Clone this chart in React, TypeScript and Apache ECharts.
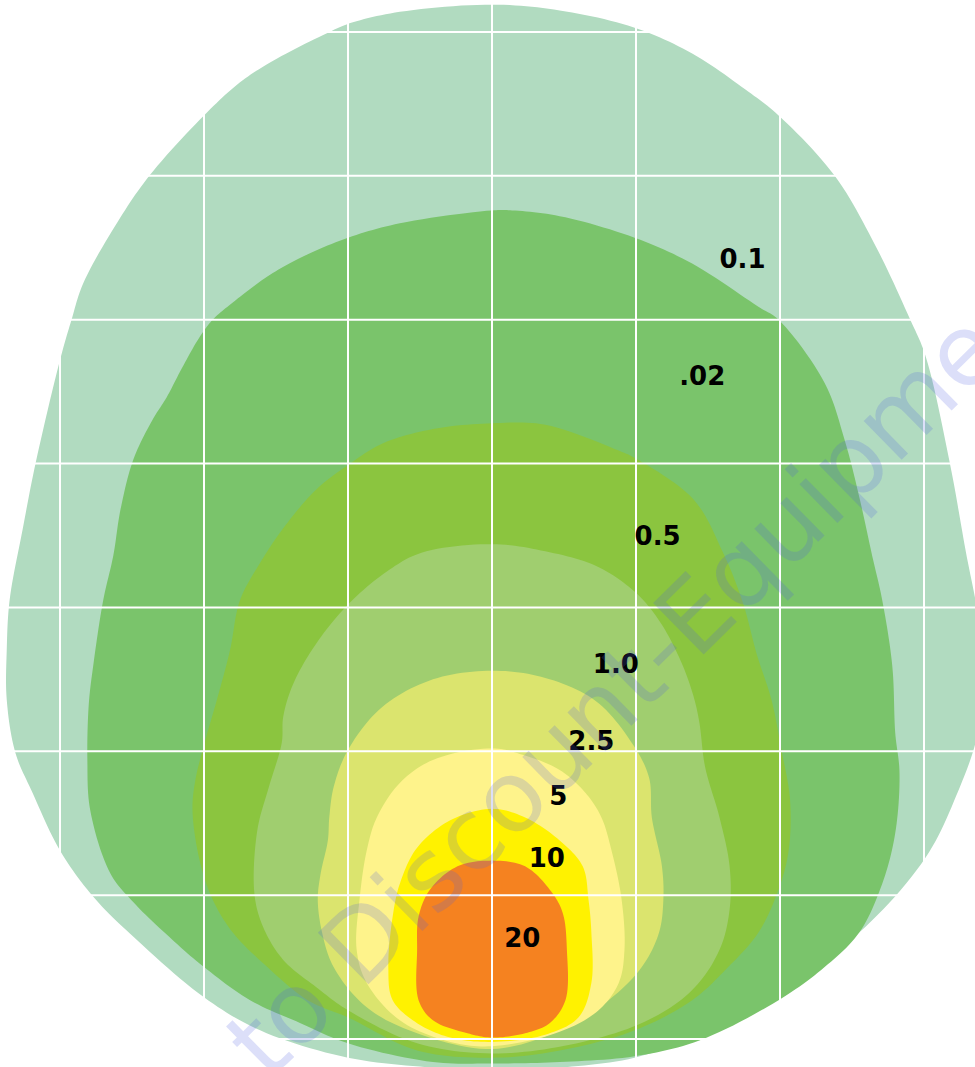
import React, { useEffect, useRef } from "react";
import * as echarts from "echarts";

// Grid ticks (grid spacing = 10 units)
const xTicks = [-30, -20, -10, 0, 10, 20, 30];
const yTicks = [0, 10, 20, 30, 40, 50, 60, 70];

// Iso-level labels (outermost to innermost)
const levelLabels = ["0.1", ".02", "0.5", "1.0", "2.5", "5", "10", "20"];
const levelColors = ["#b1dbc0", "#7ac46b", "#8bc53f", "#a0ce6f", "#dbe46e", "#fef38b", "#fff200", "#f58220"];

// Contour outlines in chart units [x, y]
const contour01 = [[0,71.9],[4.7,71.5],[9.9,70.3],[13.9,68.5],[17.6,66.0],[19.9,64.2],[23.8,60.0],[26.6,55.2],[29.0,50.1],[30.1,47.5],[31.8,40.0],[32.9,33.9],[33.8,29.1],[34.1,25.0],[33.7,21.1],[32.4,17.3],[30.1,12.6],[25.5,7.4],[19.9,3.4],[15.1,0.6],[9.9,-1.3],[4.7,-2.0],[0,-2.3],[-4.1,-2.0],[-10.0,-1.3],[-16.1,0.6],[-20.0,2.9],[-24.9,7.1],[-27.7,9.9],[-30.0,13.1],[-31.9,17.1],[-33.1,19.9],[-33.7,23.6],[-33.7,27.0],[-33.5,30.5],[-32.6,35.4],[-31.7,40.0],[-30.0,47.2],[-29.2,50.0],[-28.4,52.5],[-26.0,56.8],[-23.8,60.0],[-20.0,64.2],[-17.5,66.5],[-15.2,68.0],[-11.5,69.9],[-9.9,70.6],[-6.4,71.4]];
const contour02 = [[0,57.6],[1.4,57.6],[4.7,57.2],[9.9,55.7],[13.9,53.9],[18.5,50.9],[19.9,50.0],[23.1,45.6],[24.5,41.6],[25.5,37.7],[26.4,33.6],[27.1,30.5],[27.8,25.9],[28.0,21.3],[28.3,18.5],[28.0,14.3],[27.1,10.8],[25.5,7.4],[23.1,5.0],[19.9,2.7],[14.4,-0.1],[9.9,-1.2],[4.7,-1.6],[0,-1.7],[-4.1,-1.6],[-10.0,-0.3],[-13.3,1.1],[-16.8,2.7],[-20.0,5.0],[-22.2,6.9],[-24.9,9.5],[-26.5,11.5],[-27.9,15.9],[-28.1,19.4],[-28.0,23.3],[-27.7,25.9],[-27.0,30.5],[-26.3,33.6],[-25.8,36.8],[-24.9,40.3],[-23.6,43.0],[-22.6,44.6],[-21.5,46.7],[-20.3,48.8],[-19.4,50.0],[-18.0,51.2],[-15.6,53.0],[-13.3,54.3],[-10.0,55.7],[-6.4,56.7]];
const contour05 = [[0,42.8],[3.7,42.7],[8.8,40.9],[9.9,40.4],[14.0,37.5],[16.0,33.9],[17.4,30.4],[18.4,26.7],[19.4,23.6],[20.1,20.1],[20.7,16.6],[20.6,13.1],[19.9,10.4],[18.5,7.4],[16.2,4.8],[13.9,2.7],[9.9,0.6],[4.7,-0.8],[0,-1.3],[-5.2,-0.8],[-10.0,1.5],[-12.8,2.7],[-15.6,5.0],[-18.0,7.4],[-19.4,9.7],[-20.3,12.4],[-20.8,15.9],[-20.6,18.0],[-19.9,20.8],[-19.1,23.6],[-18.2,27.0],[-17.5,30.5],[-16.1,33.1],[-14.5,35.5],[-12.2,38.2],[-10.0,39.9],[-7.6,41.4],[-4.1,42.4]];
const contour10 = [[0,34.4],[3.7,33.9],[7.2,32.9],[9.9,31.1],[11.6,29.1],[13.1,26.3],[14.0,23.8],[14.4,22.0],[14.8,18.9],[15.8,15.4],[16.5,12.0],[16.5,9.0],[15.8,6.2],[13.9,3.4],[10.6,1.2],[5.4,-0.4],[0,-1.0],[-5.2,-0.3],[-10.0,2.0],[-12.2,3.6],[-14.5,5.5],[-15.9,7.8],[-16.5,10.1],[-16.3,14.5],[-15.5,17.5],[-14.6,20.6],[-14.5,22.4],[-13.8,24.7],[-12.2,27.5],[-10.0,30.2],[-7.3,32.5],[-4.9,33.8]];
const contour25 = [[0,25.6],[3.7,25.1],[7.2,23.5],[9.7,20.6],[10.9,18.2],[11.1,15.4],[11.8,12.0],[11.9,9.7],[11.6,7.4],[10.4,5.0],[8.1,2.7],[4.7,0.6],[0,-0.7],[-5.2,0.4],[-8.7,2.2],[-11.0,5.0],[-11.8,7.4],[-12.1,9.7],[-11.9,11.5],[-11.4,13.8],[-11.3,15.4],[-11.0,17.5],[-10.0,20.1],[-7.6,23.1],[-4.1,25.0]];
const contour50 = [[0,20.2],[2.3,19.7],[4.7,18.7],[6.5,17.1],[7.6,15.4],[8.3,13.1],[9.0,9.7],[9.2,6.2],[8.8,3.9],[7.4,2.0],[4.7,0.5],[0,-0.5],[-2.9,-0.2],[-6.4,1.3],[-8.7,3.9],[-9.4,6.2],[-9.2,9.7],[-8.7,13.1],[-8.0,15.4],[-6.4,17.8],[-4.1,19.4]];
const contour100 = [[0,16.0],[2.3,15.4],[4.7,13.8],[6.3,12.0],[6.7,9.7],[6.9,7.4],[6.9,3.9],[6.0,1.5],[3.7,0.3],[0,-0.2],[-2.9,0.1],[-5.2,1.1],[-6.9,2.7],[-7.2,5.0],[-6.9,8.5],[-6.4,10.8],[-5.2,13.3],[-2.9,15.2]];
const contour200 = [[0,12.4],[2.3,12.0],[4.0,10.4],[4.9,8.8],[5.2,6.2],[5.1,2.7],[4.0,1.1],[2.3,0.4],[0,0.1],[-1.7,0.4],[-4.1,1.3],[-5.1,2.7],[-5.2,6.2],[-5.1,8.5],[-4.3,10.4],[-2.4,12.0]];

// Label anchors in chart units
const labelPoints = [[17.4,54.2],[14.6,46.1],[11.5,35.0],[8.6,26.1],[6.9,20.7],[4.6,16.9],[3.8,12.6],[2.1,7.0]];

const contours = [contour01, contour02, contour05, contour10, contour25, contour50, contour100, contour200];

// Centripetal Catmull-Rom outline through the (pixel) outline points, closed.
function smoothOutline(pts: number[][], steps = 12): number[][] {
  const n = pts.length;
  const out: number[][] = [];
  const d = (a: number[], b: number[]) => Math.max(Math.pow(Math.hypot(b[0] - a[0], b[1] - a[1]), 0.5), 1e-4);
  for (let i = 0; i < n; i++) {
    const P0 = pts[(i - 1 + n) % n], P1 = pts[i], P2 = pts[(i + 1) % n], P3 = pts[(i + 2) % n];
    const t0 = 0, t1 = t0 + d(P0, P1), t2 = t1 + d(P1, P2), t3 = t2 + d(P2, P3);
    for (let s = 0; s < steps; s++) {
      const t = t1 + ((t2 - t1) * s) / steps;
      const lerp = (A: number[], B: number[], ta: number, tb: number) => [
        ((tb - t) / (tb - ta)) * A[0] + ((t - ta) / (tb - ta)) * B[0],
        ((tb - t) / (tb - ta)) * A[1] + ((t - ta) / (tb - ta)) * B[1],
      ];
      const A1 = lerp(P0, P1, t0, t1);
      const A2 = lerp(P1, P2, t1, t2);
      const A3 = lerp(P2, P3, t2, t3);
      const B1 = lerp(A1, A2, t0, t2);
      const B2 = lerp(A2, A3, t1, t3);
      out.push(lerp(B1, B2, t1, t2));
    }
  }
  return out;
}

function buildOption() {
  const contourSeries = contours.map((pts, i) => ({
    type: "custom",
    name: levelLabels[i],
    coordinateSystem: "cartesian2d",
    silent: true,
    z: 2,
    data: [[0, 0]],
    renderItem: (_p: any, api: any) => ({
      type: "polygon",
      z2: i,
      shape: { points: smoothOutline(pts.map((p) => api.coord(p))) },
      style: { fill: levelColors[i], stroke: null },
    }),
  }));

  const gridSeries = {
    type: "custom",
    name: "grid",
    coordinateSystem: "cartesian2d",
    silent: true,
    z: 5,
    data: [[0, 0]],
    renderItem: (_p: any, api: any) => {
      const children: any[] = [];
      xTicks.forEach((x) => {
        const a = api.coord([x, -10]);
        const b = api.coord([x, 80]);
        children.push({ type: "line", shape: { x1: a[0], y1: a[1], x2: b[0], y2: b[1] }, style: { stroke: "#ffffff", lineWidth: 2 } });
      });
      yTicks.forEach((y) => {
        const a = api.coord([-40, y]);
        const b = api.coord([40, y]);
        children.push({ type: "line", shape: { x1: a[0], y1: a[1], x2: b[0], y2: b[1] }, style: { stroke: "#ffffff", lineWidth: 2 } });
      });
      return { type: "group", children };
    },
  };

  const labelSeries = {
    type: "custom",
    name: "labels",
    coordinateSystem: "cartesian2d",
    silent: true,
    z: 6,
    data: labelPoints.map((p, i) => [p[0], p[1], i]),
    renderItem: (params: any, api: any) => {
      const idx = params.dataIndex;
      const c = api.coord([api.value(0), api.value(1)]);
      return {
        type: "text",
        x: c[0],
        y: c[1],
        style: {
          text: levelLabels[idx],
          fill: "#000000",
          fontSize: 26,
          fontWeight: "bold",
          fontFamily: "DejaVu Sans",
          align: "center",
          verticalAlign: "middle",
        },
      };
    },
  };

  return {
    animation: false,
    grid: { left: 60, right: 51, top: 32, bottom: 28 },
    xAxis: {
      type: "value", min: -30, max: 30, interval: 10,
      axisLine: { show: false }, axisTick: { show: false }, axisLabel: { show: false }, splitLine: { show: false },
    },
    yAxis: {
      type: "value", min: 0, max: 70, interval: 10,
      axisLine: { show: false }, axisTick: { show: false }, axisLabel: { show: false }, splitLine: { show: false },
    },
    graphic: [
      {
        type: "text",
        x: 244,
        y: 1058,
        rotation: (44.5 * Math.PI) / 180,
        z: 100,
        silent: true,
        style: {
          text: "to Discount-Equipment",
          fontSize: 99,
          fontFamily: "DejaVu Sans",
          fill: "rgba(80,95,225,0.2)",
          align: "left",
          verticalAlign: "middle",
        },
      },
    ],
    series: [...contourSeries, gridSeries, labelSeries],
  };
}

export default function App() {
  const ref = useRef<HTMLDivElement>(null);
  useEffect(() => {
    if (!ref.current) return;
    const chart = echarts.init(ref.current, null, { renderer: "svg" });
    chart.setOption(buildOption() as any);
    return () => chart.dispose();
  }, []);
  return <div ref={ref} style={{ position: "absolute", left: 0, top: 0, width: 975, height: 1067 }} />;
}
